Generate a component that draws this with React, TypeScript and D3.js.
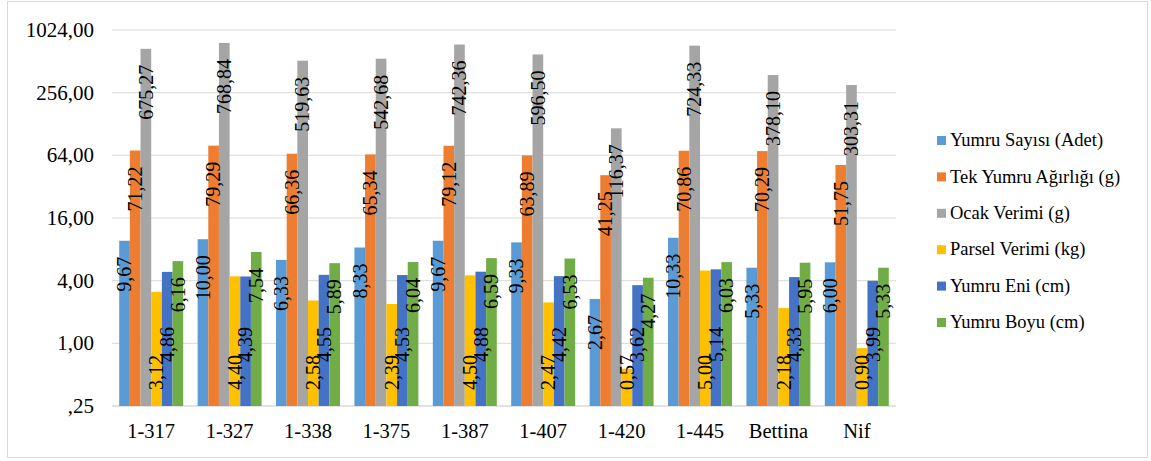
import React from "react";
import * as d3 from "d3";

// Genotypes on the x axis
const categories = ["1-317", "1-327", "1-338", "1-375", "1-387", "1-407", "1-420", "1-445", "Bettina", "Nif"];

// Measured traits, one array per series
const yumruSayisi = [9.67, 10.0, 6.33, 8.33, 9.67, 9.33, 2.67, 10.33, 5.33, 6.0];
const tekYumruAgirligi = [71.22, 79.29, 66.36, 65.34, 79.12, 63.89, 41.25, 70.86, 70.29, 51.75];
const ocakVerimi = [675.27, 768.84, 519.63, 542.68, 742.36, 596.5, 116.37, 724.33, 378.1, 303.31];
const parselVerimi = [3.12, 4.4, 2.58, 2.39, 4.5, 2.47, 0.57, 5.0, 2.18, 0.9];
const yumruEni = [4.86, 4.39, 4.55, 4.53, 4.88, 4.42, 3.62, 5.14, 4.33, 3.99];
const yumruBoyu = [6.16, 7.54, 5.89, 6.04, 6.59, 6.53, 4.27, 6.03, 5.95, 5.33];

const seriesNames = [
  "Yumru Sayısı (Adet)",
  "Tek Yumru Ağırlığı (g)",
  "Ocak Verimi (g)",
  "Parsel Verimi (kg)",
  "Yumru Eni (cm)",
  "Yumru Boyu (cm)",
];

// Log2 axis ticks and their printed labels
const tickValues = [0.25, 1, 4, 16, 64, 256, 1024];
const tickLabels = [",25", "1,00", "4,00", "16,00", "64,00", "256,00", "1024,00"];

const seriesValues = [yumruSayisi, tekYumruAgirligi, ocakVerimi, parselVerimi, yumruEni, yumruBoyu];
const colors = ["#5B9BD5", "#ED7D31", "#A5A5A5", "#FFC000", "#4472C4", "#70AD47"];
// How each series places its value labels
const labelModes: { mode: "end" | "base"; offset: number }[] = [
  { mode: "end", offset: 16 },
  { mode: "end", offset: 16 },
  { mode: "end", offset: 16 },
  { mode: "base", offset: 16 },
  { mode: "base", offset: 44 },
  { mode: "end", offset: 16 },
];

const W = 1151;
const H = 461;
const plot = { left: 112, right: 896, top: 30, bottom: 406 };
const FONT = "Liberation Serif, Tinos, Times New Roman, DejaVu Serif, serif";

const fmt = (v: number) => v.toFixed(2).replace(".", ",");

export default function App() {
  const y = d3.scaleLog().base(2).domain([0.25, 1024]).range([plot.bottom, plot.top]);
  const x0 = d3
    .scaleBand<string>()
    .domain(categories)
    .range([plot.left, plot.right])
    .paddingInner(0.184)
    .paddingOuter(0.092);
  const x1 = d3
    .scaleBand<number>()
    .domain(d3.range(seriesNames.length))
    .range([0, x0.bandwidth()])
    .padding(0);

  return (
    <svg
      width={W}
      height={H}
      style={{ position: "absolute", left: 0, top: 0, background: "#fff", fontFamily: FONT }}
    >
      <rect x={7.5} y={1.5} width={1140} height={456} fill="#fff" stroke="#d9d9d9" strokeWidth={1} />

      {/* gridlines and tick labels */}
      {tickValues.map((t, i) => (
        <g key={t}>
          <line
            x1={plot.left}
            x2={plot.right}
            y1={y(t)}
            y2={y(t)}
            stroke="#d9d9d9"
            strokeWidth={i === 0 ? 1.5 : 1}
          />
          <text x={94} y={y(t)} dy="0.34em" textAnchor="end" fontSize={21} fill="#000">
            {tickLabels[i]}
          </text>
        </g>
      ))}

      {/* bars */}
      {categories.map((c, ci) => (
        <g key={c} transform={`translate(${x0(c)},0)`}>
          {seriesValues.map((vals, si) => (
            <rect
              key={si}
              x={x1(si)}
              y={y(vals[ci])}
              width={x1.bandwidth()}
              height={plot.bottom - y(vals[ci])}
              fill={colors[si]}
            />
          ))}
        </g>
      ))}

      {/* value labels, rotated */}
      {categories.map((c, ci) => (
        <g key={c + "-lbl"}>
          {seriesValues.map((vals, si) => {
            const cx = (x0(c) as number) + (x1(si) as number) + x1.bandwidth() / 2;
            const m = labelModes[si];
            const ly = m.mode === "end" ? y(vals[ci]) + m.offset : plot.bottom - m.offset;
            return (
              <text
                key={si}
                transform={`translate(${cx},${ly}) rotate(-90)`}
                dy="0.34em"
                textAnchor={m.mode === "end" ? "end" : "start"}
                fontSize={20}
                fill="#000"
              >
                {fmt(vals[ci])}
              </text>
            );
          })}
        </g>
      ))}

      {/* category labels */}
      {categories.map((c) => (
        <text
          key={c + "-x"}
          x={(x0(c) as number) + x0.bandwidth() / 2}
          y={438}
          textAnchor="middle"
          fontSize={20.5}
          fill="#000"
        >
          {c}
        </text>
      ))}

      {/* legend */}
      {seriesNames.map((name, i) => {
        const ly = 140 + i * 36.4;
        return (
          <g key={name}>
            <rect x={937} y={ly - 4} width={9} height={9} fill={colors[i]} />
            <text x={950} y={ly} dy="0.34em" fontSize={18.5} fill="#000">
              {name}
            </text>
          </g>
        );
      })}
    </svg>
  );
}
